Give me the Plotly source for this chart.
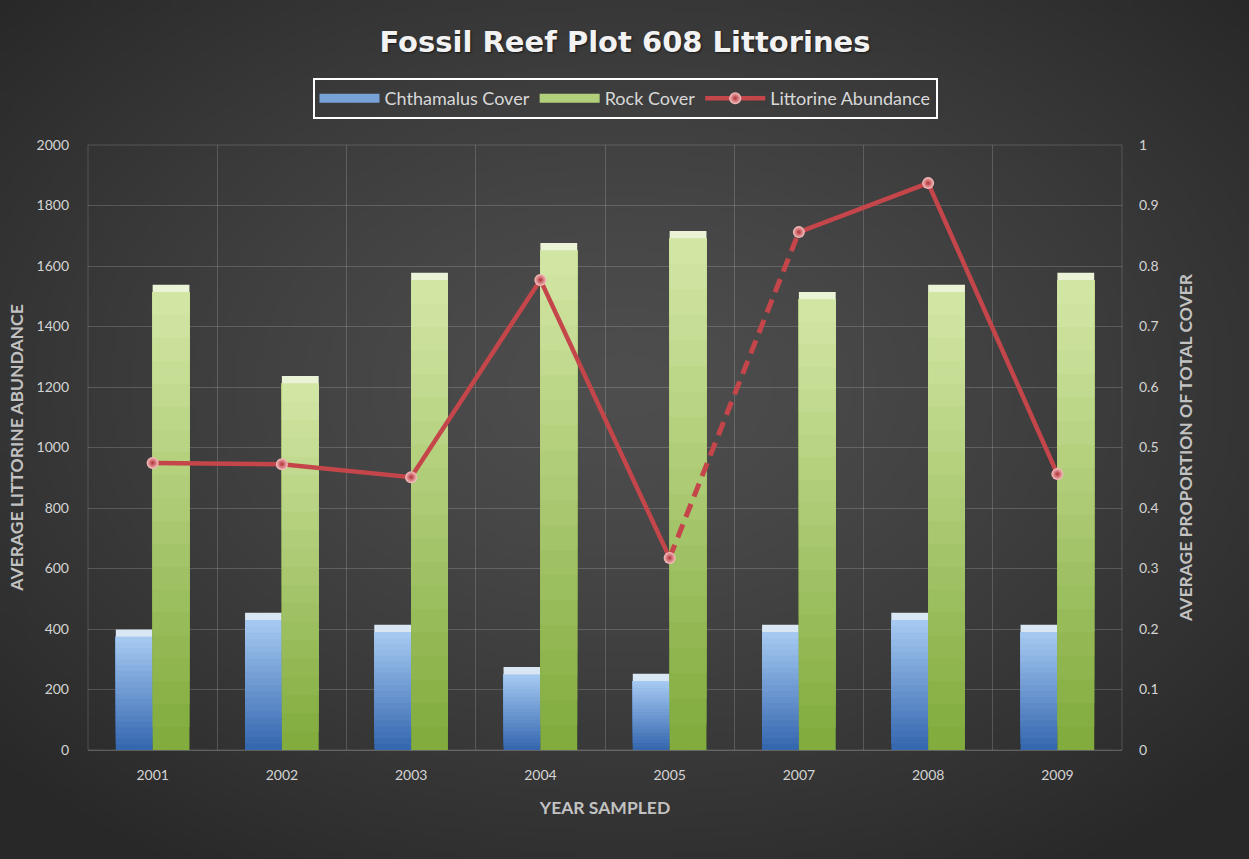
import base64
import struct
import zlib

import numpy as np
import plotly.graph_objects as go

# ---- data -------------------------------------------------------------
years = ["2001", "2002", "2003", "2004", "2005", "2007", "2008", "2009"]
chthamalus_cover = [0.199, 0.227, 0.207, 0.137, 0.126, 0.207, 0.227, 0.207]
rock_cover = [0.769, 0.618, 0.789, 0.838, 0.858, 0.757, 0.769, 0.789]
littorine_abundance = [949, 945, 902, 1554, 635, 1712, 1874, 912]

# ---- layout geometry --------------------------------------------------
W, H = 1249, 859
ML, MR, MT, MB = 88, 127, 145, 109
PW, PH = W - ML - MR, H - MT - MB


def radial_png(w, h, inner, outer):
    """Small PNG with a radial dark-grey vignette, encoded as data URI."""
    yy, xx = np.mgrid[0:h, 0:w]
    cx, cy = (w - 1) / 2, (h - 1) * 0.45
    r = np.sqrt(((xx - cx) / (w / 2)) ** 2 + ((yy - cy) / (h / 2)) ** 2) / 1.35
    r = np.clip(r, 0, 1) ** 1.3
    inner = np.array(inner, float)
    outer = np.array(outer, float)
    rgb = (inner + (outer - inner) * r[..., None]).astype(np.uint8)
    raw = b"".join(b"\x00" + rgb[i].tobytes() for i in range(h))

    def chunk(tag, data):
        c = struct.pack(">I", len(data)) + tag + data
        return c + struct.pack(">I", zlib.crc32(tag + data) & 0xFFFFFFFF)

    png = (b"\x89PNG\r\n\x1a\n"
           + chunk(b"IHDR", struct.pack(">IIBBBBB", w, h, 8, 2, 0, 0, 0))
           + chunk(b"IDAT", zlib.compress(raw, 9))
           + chunk(b"IEND", b""))
    return "data:image/png;base64," + base64.b64encode(png).decode()


def mix(c0, c1, t):
    return "rgb({},{},{})".format(*[int(round(a + (b - a) * t)) for a, b in zip(c0, c1)])


fig = go.Figure()

# ---- bars with a vertical gradient, built from overlapping layers ------
N_SLICES = 20
CAP = 0.012  # height of the light bevel on top of each bar (axis units)
bar_series = [
    ("Chthamalus Cover", chthamalus_cover, (54, 104, 176), (164, 200, 240), "chth"),
    ("Rock Cover", rock_cover, (130, 172, 62), (210, 230, 164), "rock"),
]
for name, vals, dark, light, grp in bar_series:
    vals = np.array(vals)
    body = vals - CAP
    for k in range(N_SLICES):
        t = k / (N_SLICES - 1)
        base = body * k / N_SLICES
        # each layer reaches the top, so later (lighter) layers overlap earlier ones
        fig.add_trace(go.Bar(
            x=years, y=body - base, base=base,
            offsetgroup=grp, yaxis="y",
            marker=dict(color=mix(dark, light, t), line=dict(width=0)),
            showlegend=False, hoverinfo="skip",
        ))
    fig.add_trace(go.Bar(
        x=years, y=[CAP] * len(vals), base=body,
        offsetgroup=grp, yaxis="y",
        marker=dict(color=mix(light, (250, 252, 245), 0.6), line=dict(width=0)),
        showlegend=False, hoverinfo="skip",
    ))

# legend entries for the bar series, drawn as thick bars in the legend
for name, vals, dark, light, grp in bar_series:
    fig.add_trace(go.Scatter(
        x=[years[0]], y=[None], name=name, yaxis="y", mode="lines",
        line=dict(color=mix(dark, light, 0.6), width=9),
        showlegend=True, legendrank=1 if grp == "chth" else 2,
    ))

# ---- littorine abundance line -------------------------------------------
LINE_RED = "#c4464a"
i5, i7 = years.index("2005"), years.index("2007")
# break the solid line across the 2005-2007 gap
solid_x, solid_v = [], []
for i, (x, v) in enumerate(zip(years, littorine_abundance)):
    solid_x.append(x)
    solid_v.append(v)
    if i == i5:
        solid_x.append(x)
        solid_v.append(None)

fig.add_trace(go.Scatter(
    x=years[i5:i7 + 1], y=littorine_abundance[i5:i7 + 1], yaxis="y2",
    mode="lines", line=dict(color=LINE_RED, width=5, dash="14px,8px"),
    showlegend=False, hoverinfo="skip",
))
fig.add_trace(go.Scatter(
    x=solid_x, y=solid_v, yaxis="y2", name="Littorine Abundance",
    mode="lines+markers", connectgaps=False,
    line=dict(color=LINE_RED, width=4.5),
    marker=dict(size=12, color="#f8c4c4",
                gradient=dict(type="radial", color="#b02f36"),
                line=dict(width=0)),
    legendrank=3,
))

TICK_FONT = dict(family="Lato, Open Sans, sans-serif", size=14, color="#d4d4d4")
TITLE_FONT = dict(family="Lato, sans-serif", size=17.5, color="#c2c2c2", weight="bold")
GRID = "rgba(255,255,255,0.17)"

fig.update_layout(
    width=W, height=H,
    margin=dict(l=ML, r=MR, t=MT, b=MB, pad=0),
    paper_bgcolor="#3a3a3a",
    plot_bgcolor="rgba(0,0,0,0)",
    barmode="group", bargap=0.43, bargroupgap=0.0,
    title=dict(text="<b>Fossil Reef Plot 608 Littorines</b>",
               x=625 / W, xanchor="center", xref="container",
               y=1 - 42 / H, yanchor="middle", yref="container",
               font=dict(family="DejaVu Sans, sans-serif", size=29, color="#f2f2f2",
                         shadow="1px 1px 2px rgba(0,0,0,0.6)")),
    legend=dict(orientation="h", x=(625 - ML) / PW, xanchor="center",
                y=(H - MB - 78) / PH, yanchor="top",
                bgcolor="rgba(0,0,0,0)", bordercolor="#ffffff", borderwidth=2,
                font=dict(family="Lato, Open Sans, sans-serif", size=18, color="#d8d8d8"),
                traceorder="normal", itemwidth=60, entrywidth=0),
    xaxis=dict(type="category", categoryorder="array", categoryarray=years,
               tickson="boundaries", showgrid=True, gridcolor=GRID, gridwidth=1,
               ticks="", tickfont=TICK_FONT, showline=True, linecolor=GRID,
               ticklabelstandoff=12,
               title=dict(text="YEAR SAMPLED", font=TITLE_FONT, standoff=19),
               mirror=False),
    yaxis=dict(side="right", range=[0, 1], dtick=0.1, tickformat="~g",
               showgrid=False, zeroline=False, ticks="", tickfont=TICK_FONT,
               title=dict(text="AVERAGE PROPORTION OF TOTAL COVER", font=TITLE_FONT,
                          standoff=22),
               ticklabelstandoff=16),
    yaxis2=dict(side="left", overlaying="y", range=[0, 2000], dtick=200,
                showgrid=True, gridcolor=GRID, gridwidth=1, zeroline=False,
                ticks="", tickfont=TICK_FONT,
                title=dict(text="AVERAGE LITTORINE ABUNDANCE", font=TITLE_FONT,
                           standoff=8),
                ticklabelstandoff=18),
    images=[dict(source=radial_png(250, 172, (78, 78, 78), (40, 40, 40)),
                 xref="paper", yref="paper",
                 x=-ML / PW, y=1 + MT / PH, sizex=W / PW, sizey=H / PH,
                 xanchor="left", yanchor="top", sizing="stretch", layer="below")],
    shapes=[dict(type="rect", xref="paper", yref="paper", x0=0, x1=1, y0=0, y1=1,
                 line=dict(color=GRID, width=1), fillcolor="rgba(0,0,0,0)", layer="below")],
)

fig.write_html("out.html")
